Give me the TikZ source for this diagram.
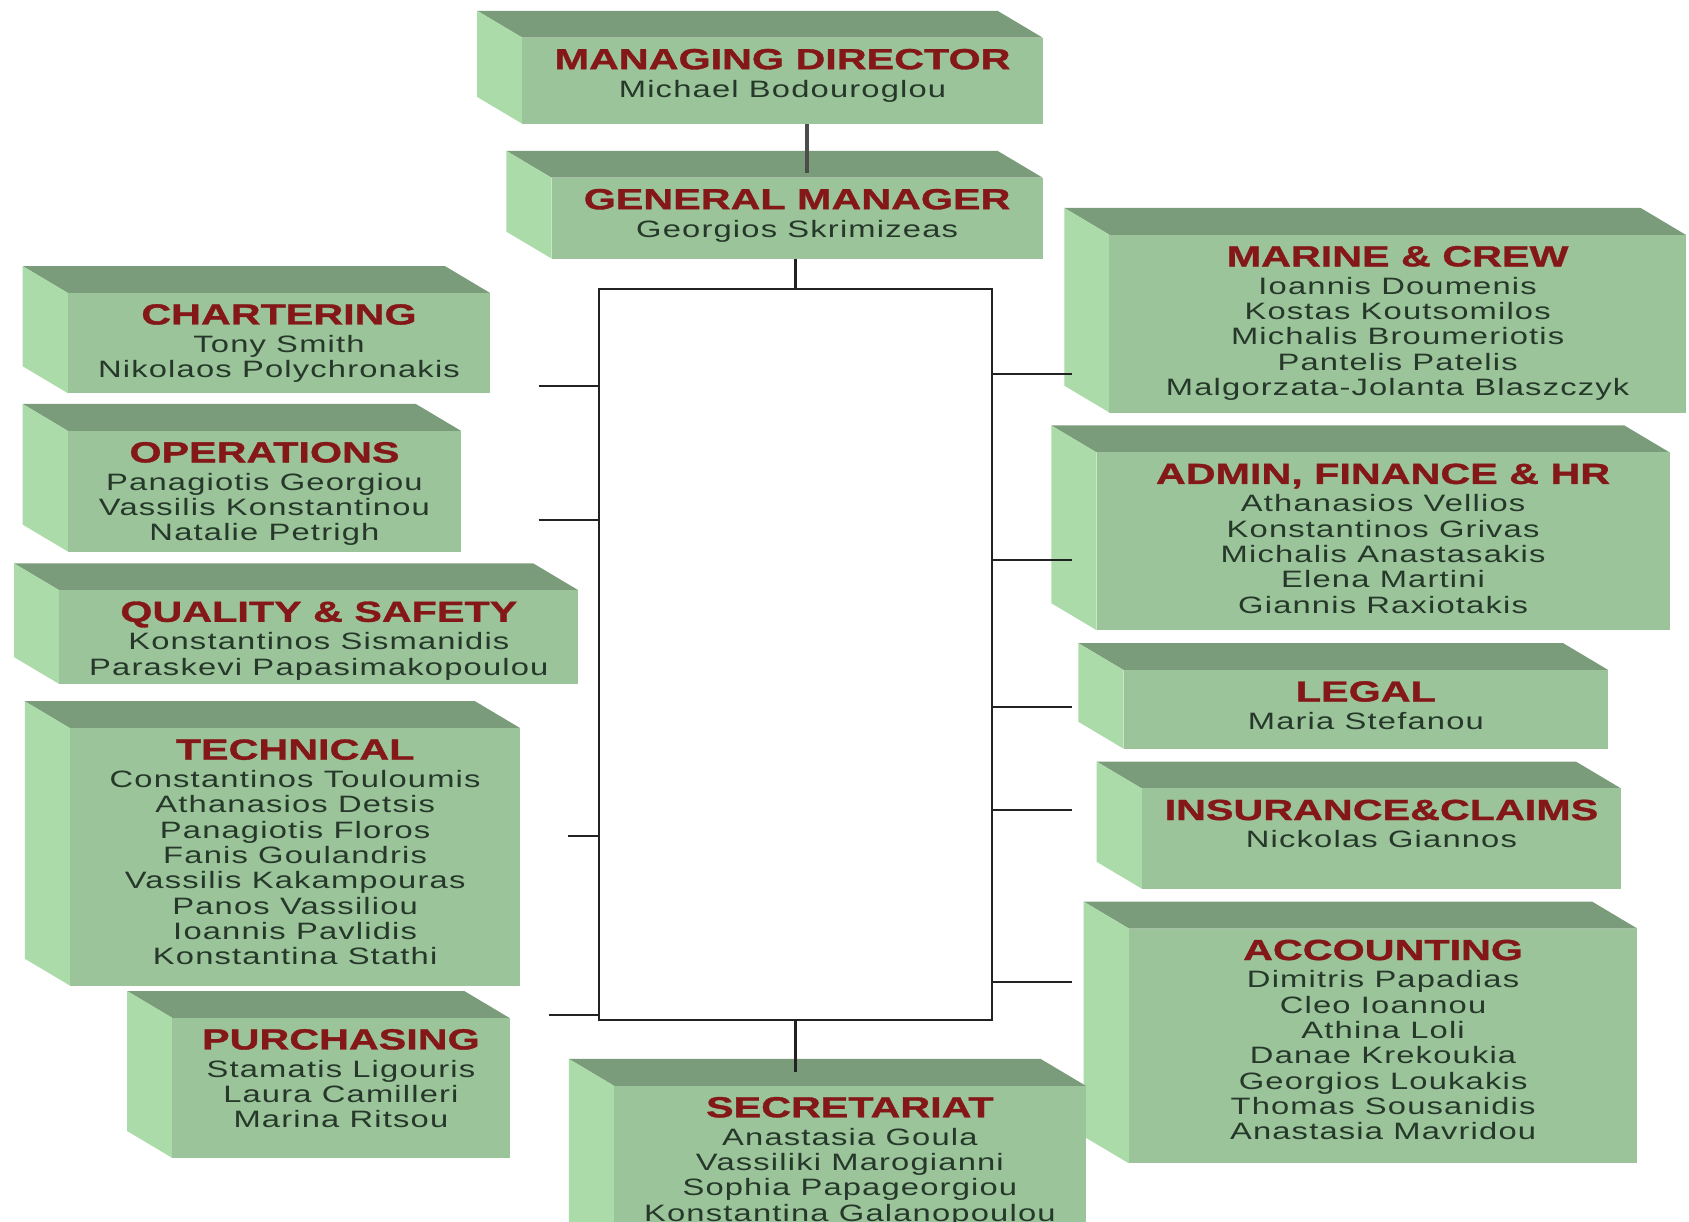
\documentclass[tikz,border=0pt]{standalone}
\usepackage{fontspec}
\newfontfamily\titlefam{Liberation Sans}[FakeStretch=1.42,FakeBold=1.2]
\newfontfamily\namefam{Liberation Sans}[FakeStretch=1.38,LetterSpace=5]

\definecolor{frontgreen}{HTML}{9CC49A}
\definecolor{topgreen}{HTML}{7A9C7A}
\definecolor{sidegreen}{HTML}{AADBA9}
\definecolor{titlered}{HTML}{841818}
\definecolor{namecol}{HTML}{25382A}
\definecolor{wirecol}{HTML}{222222}

\tikzset{
  front/.style={fill=frontgreen, draw=none, inner sep=0pt, outer sep=0pt},
  topface/.style={fill=topgreen},
  sideface/.style={fill=sidegreen},
  depttext/.style={align=center, inner sep=0pt, text=namecol,
    font=\namefam\fontsize{11}{11.75}\selectfont},
  wire/.style={draw=wirecol, line width=1pt},
  stem/.style={draw=black!70, line width=1.6pt},
}

% department heading, followed by the staff lines
\newcommand\dtitle[1]{{\titlefam\bfseries\fontsize{13.5}{13}\selectfont\color{titlered}#1}\\[1.2pt]}

% 3-D box: name, left, top, right, bottom of the front face, text
\newcommand\deptbox[6]{%
  \fill[topface] (#2,#3) -- ({#2-42},{#3-25}) -- ({#4-42},{#3-25}) -- (#4,#3) -- cycle;
  \fill[sideface] (#2,#3) -- ({#2-42},{#3-25}) -- ({#2-42},{#5-25}) -- (#2,#5) -- cycle;
  \node[front, minimum width={(#4-#2)*0.5pt}, minimum height={(#5-#3)*0.5pt}]
    (#1) at ({(#2+#4)/2},{(#3+#5)/2}) {};
  \node[depttext, anchor=north] (#1-text) at ([yshift=-5pt]#1.north) {#6};
}

\begin{document}
\begin{tikzpicture}[x=0.5pt, y=-0.5pt]
\useasboundingbox (0,0) rectangle (1568,1134);
\fill[white] (0,0) rectangle (1568,1134);
\clip (0,0) rectangle (1568,1134);

% central distribution frame
\node[draw=wirecol, line width=1pt, fill=white, minimum width=182.5pt, minimum height=339.5pt,
      inner sep=0pt] (hub) at (738.5,607.5) {};

% top of the chart
\deptbox{md}{485}{35}{968}{115}{\dtitle{MANAGING DIRECTOR}Michael Bodouroglou}
\deptbox{gm}{512}{165}{968}{240}{\dtitle{GENERAL MANAGER}Georgios Skrimizeas}

% left column
\deptbox{chart}{63}{272}{455}{365}{\dtitle{CHARTERING}Tony Smith\\Nikolaos Polychronakis}
\deptbox{ops}{63}{400}{428}{512}{\dtitle{OPERATIONS}Panagiotis Georgiou\\Vassilis Konstantinou\\Natalie Petrigh}
\deptbox{qs}{55}{548}{537}{635}{\dtitle{QUALITY \& SAFETY}Konstantinos Sismanidis\\Paraskevi Papasimakopoulou}
\deptbox{tech}{65}{676}{483}{915}{\dtitle{TECHNICAL}Constantinos Touloumis\\Athanasios Detsis\\Panagiotis Floros\\Fanis Goulandris\\Vassilis Kakampouras\\Panos Vassiliou\\Ioannis Pavlidis\\Konstantina Stathi}
\deptbox{purch}{160}{945}{473}{1075}{\dtitle{PURCHASING}Stamatis Ligouris\\Laura Camilleri\\Marina Ritsou}

% right column
\deptbox{marine}{1030}{218}{1565}{383}{\dtitle{MARINE \& CREW}Ioannis Doumenis\\Kostas Koutsomilos\\Michalis Broumeriotis\\Pantelis Patelis\\Malgorzata-Jolanta Blaszczyk}
\deptbox{admin}{1018}{420}{1550}{585}{\dtitle{ADMIN, FINANCE \& HR}Athanasios Vellios\\Konstantinos Grivas\\Michalis Anastasakis\\Elena Martini\\Giannis Raxiotakis}
\deptbox{legal}{1043}{622}{1493}{695}{\dtitle{LEGAL}Maria Stefanou}
\deptbox{ins}{1060}{732}{1505}{825}{\dtitle{INSURANCE\&CLAIMS}Nickolas Giannos}
\deptbox{acc}{1048}{862}{1520}{1080}{\dtitle{ACCOUNTING}Dimitris Papadias\\Cleo Ioannou\\Athina Loli\\Danae Krekoukia\\Georgios Loukakis\\Thomas Sousanidis\\Anastasia Mavridou}

% bottom
\deptbox{sec}{570}{1008}{1008}{1160}{\dtitle{SECRETARIAT}Anastasia Goula\\Vassiliki Marogianni\\Sophia Papageorgiou\\Konstantina Galanopoulou}

% connector end points
\coordinate (mdgm) at (749,0);
\coordinate (secjoin) at (738,995);
\coordinate (cl-chart) at (500,358);
\coordinate (cl-ops) at (500,483);
\coordinate (cl-tech) at (527,776);
\coordinate (cl-purch) at (510,942);
\coordinate (cr-marine) at (995,347);
\coordinate (cr-admin) at (995,520);
\coordinate (cr-legal) at (995,656);
\coordinate (cr-ins) at (995,752);
\coordinate (cr-acc) at (995,912);

% connectors
\draw[stem] (md.south -| mdgm) -- ([yshift=2pt]gm.north -| mdgm);
\draw[wire] (hub.north) -- (hub.north |- gm.south);
\draw[wire] (hub.south) -- (hub.south |- secjoin);
\foreach \c in {chart,ops,tech,purch}
  \draw[wire] (cl-\c) -- (cl-\c -| hub.west);
\foreach \c in {marine,admin,legal,ins,acc}
  \draw[wire] (hub.east |- cr-\c) -- (cr-\c);
\end{tikzpicture}
\end{document}
